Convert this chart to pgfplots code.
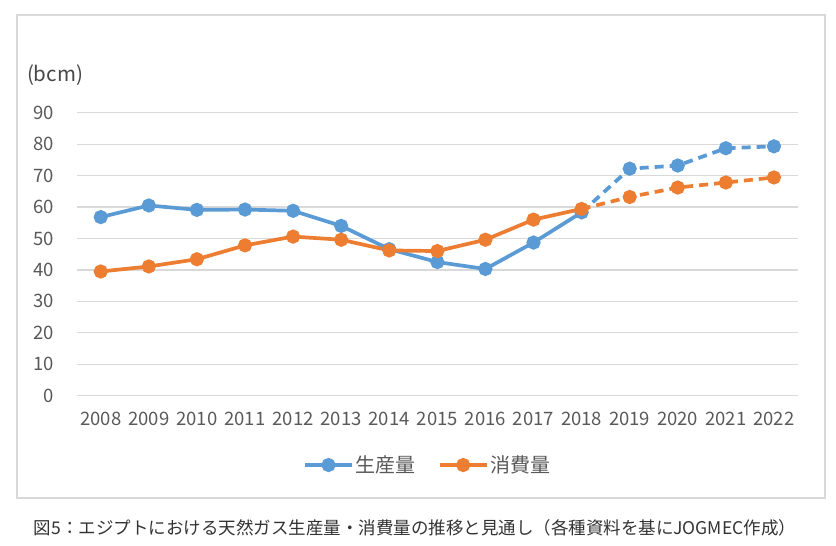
\documentclass[border=0pt]{standalone}
\usepackage{fontspec}
\setmainfont{Noto Sans CJK JP}
\usepackage{pgfplots}
\pgfplotsset{compat=1.18}
\definecolor{prodblue}{HTML}{5B9BD5}
\definecolor{consorange}{HTML}{ED7D31}
\definecolor{gridgray}{HTML}{D9D9D9}
\definecolor{labelgray}{HTML}{595959}
\definecolor{capgray}{HTML}{333333}

\begin{document}
\begin{tikzpicture}[x=1pt,y=1pt]
\useasboundingbox (0,0) rectangle (836,546);
% outer frame
\draw[gridgray, line width=1.2pt] (17,48) rectangle (825,531);
\begin{axis}[
    at={(76.7pt,150.3pt)}, anchor=south west,
    scale only axis,
    width=721.3pt, height=283pt,
    xmin=2007.5, xmax=2022.5,
    ymin=0, ymax=90,
    xtick={2008,...,2022},
    ytick={0,10,...,90},
    axis line style={draw=none},
    major tick length=0pt,
    ymajorgrids,
    grid style={gridgray, line width=1.2pt},
    ticklabel style={font=\fontsize{18.5}{21}\selectfont, text=labelgray},
    /pgf/number format/assume math mode=true,
    /pgf/number format/1000 sep={},
    yticklabel style={xshift=-19pt},
    xticklabel style={yshift=-13pt},
    clip=false,
    legend columns=2,
    legend style={at={(0.3137,-0.245)}, anchor=west, draw=none, fill=none,
        inner sep=0pt, font=\fontsize{20}{23}\selectfont, text=labelgray,
        /tikz/every even column/.append style={column sep=20pt}},
    legend image code/.code={\draw[mark repeat=2,mark phase=2,#1]
        plot coordinates {(0pt,0pt) (23.5pt,0pt) (47pt,0pt)};},
]

% 生産量 (actual)
\addplot[prodblue, line width=3.7pt, mark=*, mark size=5.2pt] coordinates {
(2008,56.8) (2009,60.5) (2010,59.1) (2011,59.2) (2012,58.8) (2013,54.0)
(2014,46.6) (2015,42.5) (2016,40.3) (2017,48.7) (2018,58.3)
};
\addlegendentry{生産量}

% 消費量 (actual)
\addplot[consorange, line width=3.7pt, mark=*, mark size=5.2pt] coordinates {
(2008,39.5) (2009,41.1) (2010,43.4) (2011,47.8) (2012,50.6) (2013,49.6)
(2014,46.2) (2015,46.0) (2016,49.6) (2017,56.0) (2018,59.4)
};
\addlegendentry{消費量}

% outlook (dashed)
\addplot[forget plot, prodblue, line width=3.7pt, dash pattern=on 9pt off 6pt,
    mark=*, mark size=5.2pt, mark options={solid}, mark indices={2,3,4,5}] coordinates {
(2018,58.3) (2019,72.2) (2020,73.2) (2021,78.7) (2022,79.3)
};
\addplot[forget plot, consorange, line width=3.7pt, dash pattern=on 9pt off 6pt,
    mark=*, mark size=5.2pt, mark options={solid}, mark indices={2,3,4,5}] coordinates {
(2018,59.4) (2019,63.2) (2020,66.2) (2021,67.8) (2022,69.4)
};

\end{axis}
\node[font=\fontsize{20.5}{23}\selectfont, text=labelgray!80!black] at (55,471) {(bcm)};
\node[font=\fontsize{17.5}{20}\selectfont, text=capgray] at (415,18)
    {図5：エジプトにおける天然ガス生産量・消費量の推移と見通し（各種資料を基にJOGMEC作成）};
\end{tikzpicture}
\end{document}
